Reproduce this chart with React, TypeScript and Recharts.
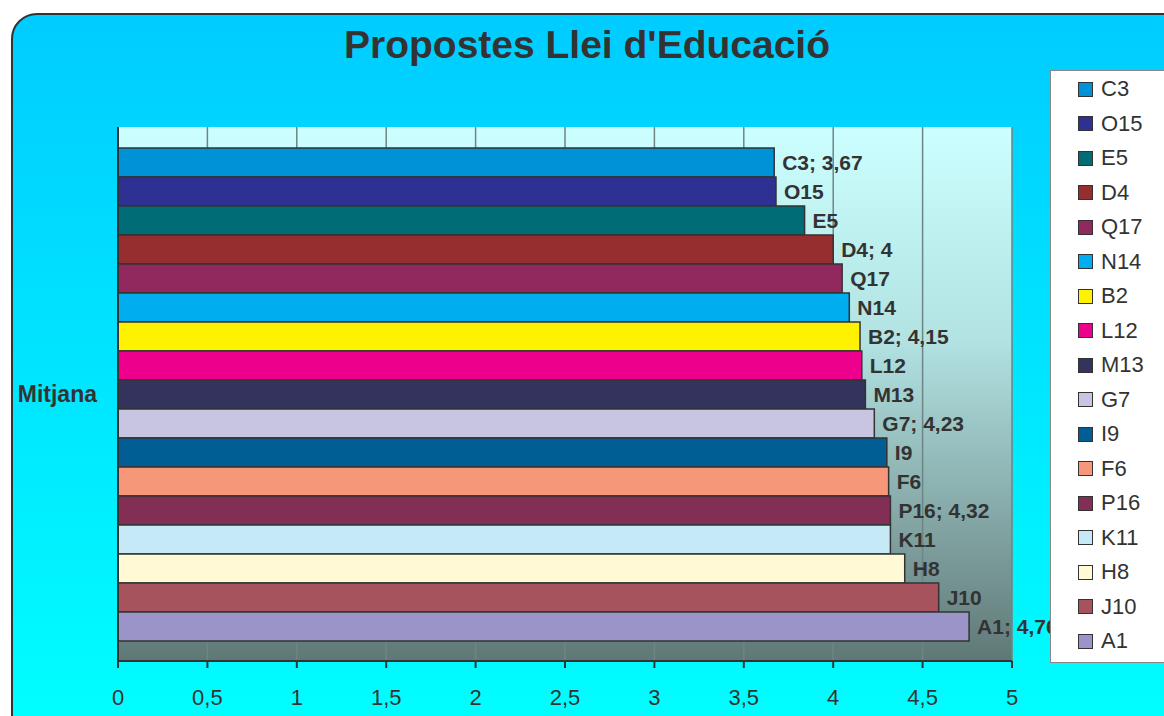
import { BarChart, Bar, XAxis, YAxis, CartesianGrid, LabelList } from "recharts";

const seriesNames = ["C3", "O15", "E5", "D4", "Q17", "N14", "B2", "L12", "M13", "G7", "I9", "F6", "P16", "K11", "H8", "J10", "A1"];
const seriesValues = [3.67, 3.68, 3.84, 4, 4.05, 4.09, 4.15, 4.16, 4.18, 4.23, 4.3, 4.31, 4.32, 4.32, 4.4, 4.59, 4.76];
const seriesColors = [
  "#0092d6", "#2e3192", "#006c75", "#962d2f", "#92295e", "#00aeef", "#fff200", "#ec008c", "#33335e",
  "#c7c5e2", "#005e95", "#f7977a", "#822e55", "#c6e9f8", "#fff9d6", "#a6535e", "#9b94c8",
];
const withValue = ["C3", "D4", "B2", "G7", "P16", "A1"];
const category = "Mitjana";
const xTicks = [0, 0.5, 1, 1.5, 2, 2.5, 3, 3.5, 4, 4.5, 5];

const fmt = (v: number) => String(v).replace(".", ",");

const row: Record<string, any> = { name: category };
seriesNames.forEach((s, i) => (row[s] = seriesValues[i]));
const data = [row];

const FONT = "'Liberation Sans', Arial, sans-serif";

export default function App() {
  return (
    <div style={{ position: "absolute", left: 0, top: 0, width: 1164, height: 716, overflow: "hidden", fontFamily: FONT }}>
      <div
        style={{
          position: "absolute",
          left: 11,
          top: 13,
          width: 1200,
          height: 760,
          border: "2px solid #333",
          borderRadius: 26,
          background: "linear-gradient(to bottom, #00ccff 0%, #00ffff 95%)",
          boxSizing: "border-box",
        }}
      />
      <div
        style={{
          position: "absolute",
          left: 0,
          width: 1174,
          top: 23,
          textAlign: "center",
          fontSize: 39,
          fontWeight: "bold",
          color: "#333",
        }}
      >
        Propostes Llei d'Educació
      </div>
      <div style={{ position: "absolute", left: 0, top: 0 }}>
        <BarChart
          width={1164}
          height={716}
          data={data}
          layout="vertical"
          margin={{ top: 127, right: 152, bottom: 0, left: 0 }}
          barCategoryGap={21}
          barGap={0}
        >
          <defs>
            <linearGradient id="plotBg" x1="0" y1="0" x2="0" y2="1">
              <stop offset="0%" stopColor="#ccffff" />
              <stop offset="40%" stopColor="#b2e2e2" />
              <stop offset="100%" stopColor="#5f7876" />
            </linearGradient>
          </defs>
          <CartesianGrid horizontal={false} stroke="#6f8585" strokeWidth={1.5} fill="url(#plotBg)" fillOpacity={1} />
          <XAxis
            type="number"
            domain={[0, 5]}
            ticks={xTicks}
            interval={0}
            height={55}
            tickFormatter={fmt}
            stroke="#333"
            strokeWidth={2}
            tickSize={7}
            tickMargin={21}
            tick={{ fill: "#333", fontSize: 22, fontFamily: FONT }}
          />
          <XAxis
            xAxisId="top"
            orientation="top"
            type="number"
            domain={[0, 5]}
            height={0}
            tick={false}
            tickLine={false}
            stroke="#7a8a8a"
            strokeWidth={1.5}
          />
          <YAxis
            type="category"
            dataKey="name"
            width={118}
            stroke="#333"
            strokeWidth={2}
            tickLine={false}
            tickSize={0}
            tickMargin={21}
            tick={{ fill: "#333", fontSize: 23, fontWeight: "bold", fontFamily: FONT }}
          />
          {seriesNames.map((s, i) => (
            <Bar key={s} dataKey={s} fill={seriesColors[i]} stroke="#333" strokeWidth={1.5} isAnimationActive={false}>
              <LabelList
                dataKey={s}
                position="right"
                offset={8}
                formatter={(v: any) => (withValue.includes(s) ? `${s}; ${fmt(v)}` : s)}
                style={{ fill: "#333", fontSize: 21, fontWeight: "bold", fontFamily: FONT }}
              />
            </Bar>
          ))}
        </BarChart>
      </div>
      <div
        style={{
          position: "absolute",
          left: 1050,
          top: 70,
          width: 140,
          height: 593,
          background: "#fff",
          border: "1px solid #888",
          boxSizing: "border-box",
        }}
      >
        {seriesNames.map((s, i) => (
          <div
            key={s}
            style={{
              position: "absolute",
              left: 27,
              top: 18 + i * 34.5 - 13,
              height: 26,
              display: "flex",
              alignItems: "center",
              fontSize: 22,
              color: "#333",
            }}
          >
            <span
              style={{
                display: "inline-block",
                width: 13,
                height: 13,
                background: seriesColors[i],
                border: "1.5px solid #333",
                marginRight: 8,
              }}
            />
            {s}
          </div>
        ))}
      </div>
    </div>
  );
}
